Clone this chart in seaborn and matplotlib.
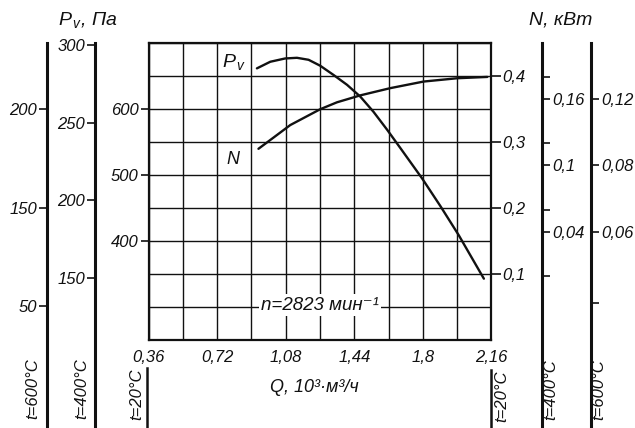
import numpy as np
import pandas as pd
import matplotlib
matplotlib.use("Agg")
import matplotlib.pyplot as plt
import seaborn as sns
from matplotlib.ticker import FixedLocator, MultipleLocator, NullFormatter

# ---------------- data ----------------
q_pv = [0.929, 0.999, 1.077, 1.139, 1.200, 1.261, 1.331, 1.402, 1.472, 1.541,
        1.612, 1.682, 1.734, 1.796, 1.892, 1.988, 2.050, 2.120]
pv = [662, 672, 677, 678, 675, 666, 652, 637, 619, 596,
      569, 541, 520, 495, 453, 409, 378, 343]

q_n = [0.937, 1.016, 1.104, 1.261, 1.349, 1.471, 1.629, 1.804, 1.980, 2.138]
n_kw = [0.290, 0.307, 0.326, 0.350, 0.3605, 0.371, 0.382, 0.392, 0.397, 0.399]

q_ticks = [0.36, 0.72, 1.08, 1.44, 1.80, 2.16]
q_labels = ["0,36", "0,72", "1,08", "1,44", "1,8", "2,16"]

pv20_ticks = [400, 500, 600]
pv20_labels = ["400", "500", "600"]
pv400_ticks = [150, 200, 250, 300]
pv400_labels = ["150", "200", "250", "300"]
pv600_ticks = [100, 150, 200]
pv600_labels = ["50", "150", "200"]

n20_ticks = [0.1, 0.2, 0.3, 0.4]
n20_labels = ["0,1", "0,2", "0,3", "0,4"]
n400_ticks = [0.04, 0.10, 0.16]
n400_labels = ["0,04", "0,1", "0,16"]
n400_minor = [0.0, 0.06, 0.12, 0.18]
n600_labels = ["0,06", "0,08", "0,12"]
n600_minor = [-0.024]

# ---------------- style ----------------
sns.set_theme(style="white")
plt.rcParams["font.family"] = ["Liberation Sans Narrow", "Liberation Sans", "DejaVu Sans"]
plt.rcParams["font.style"] = "italic"
plt.rcParams["mathtext.fontset"] = "custom"
plt.rcParams["mathtext.it"] = "Liberation Sans:italic"
plt.rcParams["mathtext.rm"] = "Liberation Sans:italic"
plt.rcParams["mathtext.default"] = "it"

W, H = 635, 428
fig = plt.figure(figsize=(W / 100, H / 100), dpi=100)
fig.patch.set_facecolor("white")


def rect(x0, y0, x1, y1):
    return [x0 / W, 1 - y1 / H, (x1 - x0) / W, (y1 - y0) / H]


FS = 12
INK = "#111111"

# ---------------- main axes ----------------
ax = fig.add_axes(rect(148.5, 43.3, 491.5, 340))
ax.set_xlim(0.36, 2.16)
ax.set_ylim(250, 700)

df_pv = pd.DataFrame({"Q": q_pv, "Pv": pv})
sns.lineplot(data=df_pv, x="Q", y="Pv", ax=ax, color=INK, linewidth=1.7)

ax.xaxis.set_major_locator(FixedLocator(q_ticks))
ax.set_xticklabels(q_labels, fontsize=FS, style="italic")
ax.xaxis.set_minor_locator(MultipleLocator(0.18))
ax.yaxis.set_major_locator(FixedLocator(pv20_ticks))
ax.set_yticklabels(pv20_labels, fontsize=FS, style="italic")
ax.yaxis.set_minor_locator(MultipleLocator(50))
ax.grid(True, which="both", color=INK, linewidth=1.0)
ax.tick_params(axis="both", which="major", direction="out", length=6, width=1.2,
               color=INK, labelcolor=INK, pad=1)
ax.tick_params(axis="both", which="minor", length=0)
for s in ax.spines.values():
    s.set_color(INK)
    s.set_linewidth(1.6)
ax.set_xlabel("")
ax.set_ylabel("")

ax2 = ax.twinx()
ax2.set_ylim(0, 0.45)
df_n = pd.DataFrame({"Q": q_n, "N": n_kw})
sns.lineplot(data=df_n, x="Q", y="N", ax=ax2, color=INK, linewidth=1.7)
ax2.set_ylabel("")
ax2.yaxis.set_major_locator(FixedLocator(n20_ticks))
ax2.set_yticklabels(n20_labels, fontsize=FS, style="italic")
ax2.tick_params(axis="y", direction="out", length=7, width=1.2, color=INK, labelcolor=INK, pad=1)
for s in ax2.spines.values():
    s.set_visible(False)
ax.set_xlim(0.36, 2.16)


# ---------------- side axes ----------------
def side_axis(x_px, y0_px, y1_px, lim, side, ticks=None, labels=None, minor=None, lw=2.2):
    a = fig.add_axes(rect(x_px, y0_px, x_px + 0.3, y1_px))
    a.patch.set_visible(False)
    for s in a.spines.values():
        s.set_visible(False)
    a.spines[side].set_visible(True)
    a.spines[side].set_linewidth(lw)
    a.spines[side].set_color(INK)
    a.set_xticks([])
    a.set_ylim(*lim)
    if side == "right":
        a.yaxis.tick_right()
    else:
        a.yaxis.tick_left()
    a.yaxis.set_major_locator(FixedLocator(ticks if ticks else []))
    if labels:
        a.set_yticklabels(labels, fontsize=FS, style="italic")
    if minor:
        a.yaxis.set_minor_locator(FixedLocator(minor))
        a.yaxis.set_minor_formatter(NullFormatter())
    a.tick_params(axis="y", which="both", direction="out", length=6, width=1.2,
                  color=INK, labelcolor=INK, pad=1)
    return a


# Pv axes for 400 and 600 deg C (left)
side_axis(95, 43, 428, (53.3, 301.4), "left", pv400_ticks, pv400_labels)
side_axis(47, 43, 428, (38.2, 233.6), "left", pv600_ticks, pv600_labels)
# N axes for 400 and 600 deg C (right)
side_axis(542, 43, 428, (-0.1371, 0.2104), "right", n400_ticks, n400_labels, n400_minor)
side_axis(591, 43, 428, (-0.1371, 0.2104), "right", n400_ticks, n600_labels, n600_minor)
# t=20 short segments
side_axis(147, 368, 428, (0, 1), "left", lw=1.8)
side_axis(491, 370, 428, (0, 1), "left", lw=1.8)


# ---------------- texts ----------------
def ftext(x, y, s, **kw):
    kw.setdefault("fontsize", FS)
    kw.setdefault("color", INK)
    kw.setdefault("style", "italic")
    fig.text(x / W, 1 - y / H, s, ha="center", va="center", **kw)


ftext(88, 20, r"$P_{\,v}$, Па", fontsize=14)
ftext(561, 20, "N, кВт", fontsize=14)
ftext(314, 388, "Q, 10³·м³/ч", fontsize=13)
ftext(234, 62, r"$P_{\,v}$", fontsize=14)
ftext(233, 159, "N", fontsize=13)
ax.text(1.262, 303, "n=2823 мин⁻¹", ha="center", va="center", fontsize=13.5,
        style="italic", color=INK,
        bbox=dict(facecolor="white", edgecolor="none", pad=1.5), zorder=5)

for x, y, s in [(33, 389, "t=600°C"), (82, 389, "t=400°C"), (137, 394, "t=20°C"),
                (502, 396, "t=20°C"), (551, 390, "t=400°C"), (599, 390, "t=600°C")]:
    ftext(x, y, s, rotation=90, fontsize=12)

fig.savefig("out.png", dpi=100, facecolor="white")
